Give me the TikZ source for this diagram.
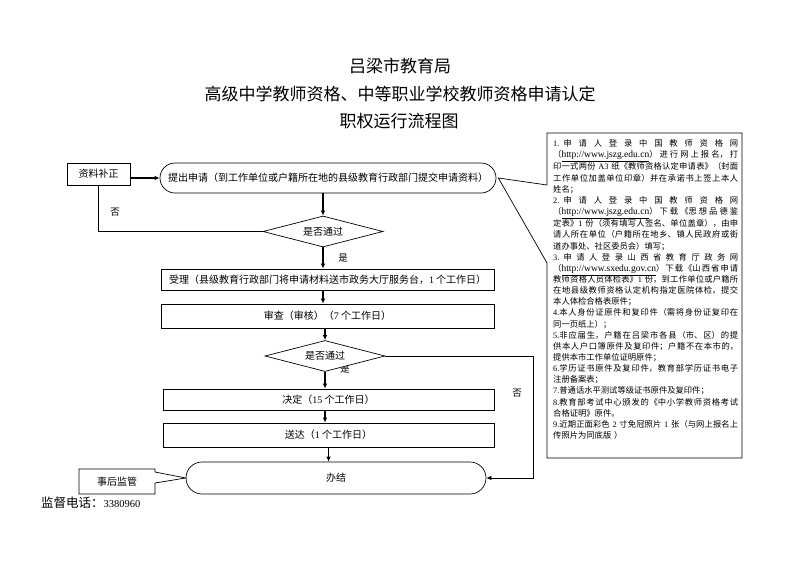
\documentclass[tikz,border=0pt]{standalone}
\usepackage{fontspec}
\setmainfont{Noto Sans CJK SC}
\newfontfamily\latf{Liberation Serif}
\newcommand\lt[1]{{\latf #1}}
\newcommand\url[1]{{\latf\fontsize{9.5}{11}\selectfont\underline{#1}}}
\usetikzlibrary{shapes.geometric,arrows.meta,calc}
\XeTeXlinebreaklocale "zh"
\XeTeXlinebreakskip=0pt plus 1fil
\begin{document}
\begin{tikzpicture}[x=1pt,y=-1pt,
  flowbox/.style={draw, line width=0.7pt, inner sep=0pt, font=\fontsize{10}{12}\selectfont},
  term/.style={flowbox, rounded corners=15pt},
  dec/.style={diamond, aspect=4, draw, line width=0.7pt, fill=white, inner sep=0pt,
    minimum width=120pt, minimum height=31pt, font=\fontsize{10}{12}\selectfont},
  arr/.style={line width=1.1pt, -{Latex[length=5pt,width=4.5pt]}},
  thin/.style={line width=0.7pt},
  lbl/.style={inner sep=0pt, font=\fontsize{9.5}{11}\selectfont},
  ttl/.style={inner sep=0pt, font=\fontsize{17}{20}\selectfont}]
\fill[white] (0,0) rectangle (800,565);
\useasboundingbox (0,0) rectangle (800,565);

% titles
\node[ttl] (t1) at (400,66) {吕梁市教育局};
\node[ttl] (t2) at (400,94) {高级中学教师资格、中等职业学校教师资格申请认定};
\node[ttl] (t3) at (399,121) {职权运行流程图};

% flow nodes
\node[flowbox, minimum width=63pt, minimum height=22pt] (fix) at (98.5,174) {资料补正};
\node[term, minimum width=336pt, minimum height=30pt] (apply) at (328,178)
  {提出申请（到工作单位或户籍所在地的县级教育行政部门提交申请资料）};
\node[dec] (d1) at (323,231.5) {是否通过};
\node[flowbox, minimum width=333pt, minimum height=21pt, inner xsep=8pt] (accept) at (327.5,279.5)
  {\hbox to 317pt{受理（县级教育行政部门将申请材料送市政务大厅服务台，\lt{1} 个工作日）\hskip 0pt plus 1fill}};
\node[flowbox, minimum width=333pt, minimum height=24pt] (review) at (327.5,316)
  {审查（审核）（\lt{7} 个工作日）};
\node[lbl] (yes2) at (345,369) {是};
\node[dec] (d2) at (325,356) {是否通过};
\node[flowbox, minimum width=331pt, minimum height=21pt] (decide) at (328.5,399.5)
  {决定（\lt{15} 个工作日）};
\node[flowbox, minimum width=331pt, minimum height=24pt] (deliver) at (328.5,435)
  {送达（\lt{1} 个工作日）};
\node[term, minimum width=300pt, minimum height=32pt, rounded corners=16pt] (done) at (336,478) {办结};

% labels
\node[lbl] (no1) at (115,212) {否};
\node[lbl] (yes1) at (343,258) {是};
\node[lbl] (no2) at (517,393) {否};

% connectors
\draw[arr] (fix.east |- apply.west) -- (apply.west);
\draw[arr] (apply.south -| d1.north) -- (d1.north);
\draw[thin] (d1.west) -- (d1.west -| fix.south) -- (fix.south);
\draw[arr] (d1.south) -- (d1.south |- accept.north);
\draw[arr] (accept.south -| d1.south) -- (d1.south |- review.north);
\draw[arr] (review.south -| d2.north) -- (d2.north);
\draw[arr] (d2.south) -- (d2.south |- decide.north);
\draw[arr] (decide.south -| d2.south) -- (d2.south |- deliver.north);
\draw[arr] (deliver.south) -- (deliver.south |- done.north);
\coordinate (rx) at (533,356);
\draw[line width=0.8pt, -{Latex[length=5pt,width=4.5pt]}] (d2.east) -- (rx) -- (rx |- done.east) -- (done.east);

% requirements callout
\node[anchor=north west, inner sep=0pt, text width=185pt,
  font=\fontsize{8.3}{11.15}\selectfont] (req) at (553,139.5) {%
\parindent=0pt \leftskip=0pt \rightskip=0pt \parfillskip=0pt plus 1fill
\lt{1.} 申请人登录中国教师资格网\linebreak
（\url{http://www.jszg.edu.cn}）进行网上报名，打\linebreak
印一式两份 \lt{A3} 纸《教师资格认定申请表》（封面\linebreak
工作单位加盖单位印章）并在承诺书上签上本人\linebreak
姓名；\par
\lt{2.} 申请人登录中国教师资格网\linebreak
（\url{http://www.jszg.edu.cn}）下载《思想品德鉴\linebreak
定表》\lt{1} 份（须有填写人签名、单位盖章），由申\linebreak
请人所在单位（户籍所在地乡、镇人民政府或街\linebreak
道办事处、社区委员会）填写；\par
\lt{3.} 申请人登录山西省教育厅政务网\linebreak
（\url{http://www.sxedu.gov.cn}）下载《山西省申请\linebreak
教师资格人员体检表》\lt{1} 份，到工作单位或户籍所\linebreak
在地县级教师资格认定机构指定医院体检，提交\linebreak
本人体检合格表原件；\par
\lt{4.}本人身份证原件和复印件（需将身份证复印在\linebreak
同一页纸上）；\par
\lt{5.}非应届生，户籍在吕梁市各县（市、区）的提\linebreak
供本人户口簿原件及复印件；户籍不在本市的，\linebreak
提供本市工作单位证明原件；\par
\lt{6.}学历证书原件及复印件，教育部学历证书电子\linebreak
注册备案表；\par
\lt{7.}普通话水平测试等级证书原件及复印件；\par
\lt{8.}教育部考试中心颁发的《中小学教师资格考试\linebreak
合格证明》原件。\par
\lt{9.}近期正面彩色 \lt{2} 寸免冠照片 \lt{1} 张（与网上报名上\linebreak
传照片为同底版 ）\par};
\draw[thin] (547,133) -- (742,133) -- (742,458) -- (547,458) -- (547,263)
  -- ($(apply.east)+(2,0)$) -- (547,185) -- cycle;

% supervision callout
\node[inner sep=0pt, font=\fontsize{10}{12}\selectfont] (sup) at (117,481.5) {事后监管};
\draw[thin] (79,469) -- (155,469) -- (155,472) -- (done.west) -- (155,483) -- (155,494) -- (79,494) -- cycle;
\node[anchor=west, inner sep=0pt] (tel) at (41,503)
  {\fontsize{12.5}{14}\selectfont 监督电话：{\latf\fontsize{10.5}{12}\selectfont 3380960}};
\end{tikzpicture}
\end{document}
